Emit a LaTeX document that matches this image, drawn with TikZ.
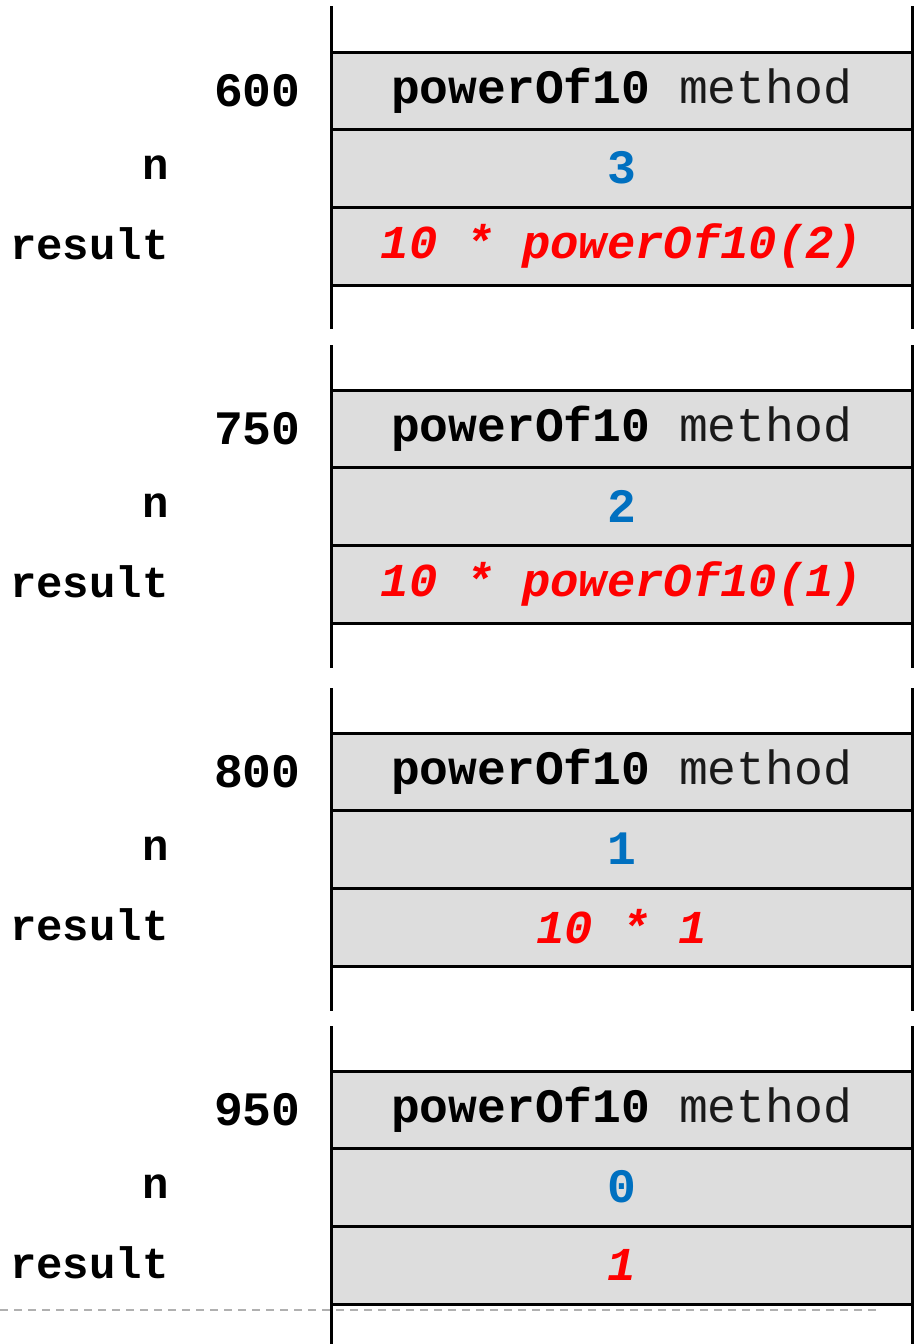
\documentclass[tikz,border=0pt]{standalone}
\usepackage{fontspec}
\setmainfont{Liberation Mono}
\definecolor{valblue}{HTML}{0070C0}
\definecolor{resred}{HTML}{FF0000}
\definecolor{rowfill}{HTML}{DDDDDD}
\definecolor{dashgray}{HTML}{B0B0B0}
\definecolor{methgray}{HTML}{1A1A1A}
\tikzset{
  rowbox/.style={draw=black, fill=rowfill, line width=1.5pt, minimum width=290.5pt,
    minimum height=39pt, inner sep=0pt, font=\fontsize{24}{28}\selectfont},
  lab/.style={anchor=east, inner sep=0pt, font=\fontsize{24}{28}\selectfont\bfseries},
  varlab/.style={anchor=east, inner sep=0pt, font=\fontsize{22}{26}\selectfont\bfseries},
  rail/.style={line width=1.5pt, draw=black},
  divider/.style={draw=dashgray, line width=1pt, dash pattern=on 4pt off 3pt},
  valtext/.style={text=valblue, font=\fontsize{24}{28}\selectfont\bfseries},
  restext/.style={text=resred, font=\fontsize{23.6}{28}\selectfont\bfseries\itshape}
}
\newcommand{\stackframe}[7]{%
  \pgfmathsetmacro\ya{#3+39}%
  \pgfmathsetmacro\yb{#3+117}%
  \pgfmathsetmacro\yc{#3+195}%
  \coordinate (#1lt) at (331,#2);
  \coordinate (#1lb) at (331,#4);
  \coordinate (#1rt) at (912,#2);
  \coordinate (#1rb) at (912,#4);
  \draw[rail] (#1lt) -- (#1lb);
  \draw[rail] (#1rt) -- (#1rb);
  \node[rowbox] (#1h) at (621.5,\ya+1) {\textbf{powerOf10} {\color{methgray}method}};
  \node[rowbox, valtext] (#1n) at (621.5,\yb) {#6};
  \node[rowbox, restext] (#1r) at (621.5,\yc) {#7};
  \node[lab] (#1a) at (301,\ya+1) {#5};
  \node[varlab] (#1nl) at (169,\yb) {n};
  \node[varlab] (#1rl) at (169,\yc-2) {result};
}
\begin{document}
\begin{tikzpicture}[x=0.5pt, y=-0.5pt]
  \useasboundingbox (0,0) rectangle (921,1344);
  \coordinate (dl) at (0,1310);
  \coordinate (dr) at (880,1310);
  \draw[divider] (dl) -- (dr);
  \stackframe{fa}{6}{51}{329}{600}{3}{10 * powerOf10(2)}
  \stackframe{fb}{345}{389}{668}{750}{2}{10 * powerOf10(1)}
  \stackframe{fc}{688}{732}{1011}{800}{1}{10 * 1}
  \stackframe{fd}{1026}{1070}{1344}{950}{0}{1}
\end{tikzpicture}
\end{document}
